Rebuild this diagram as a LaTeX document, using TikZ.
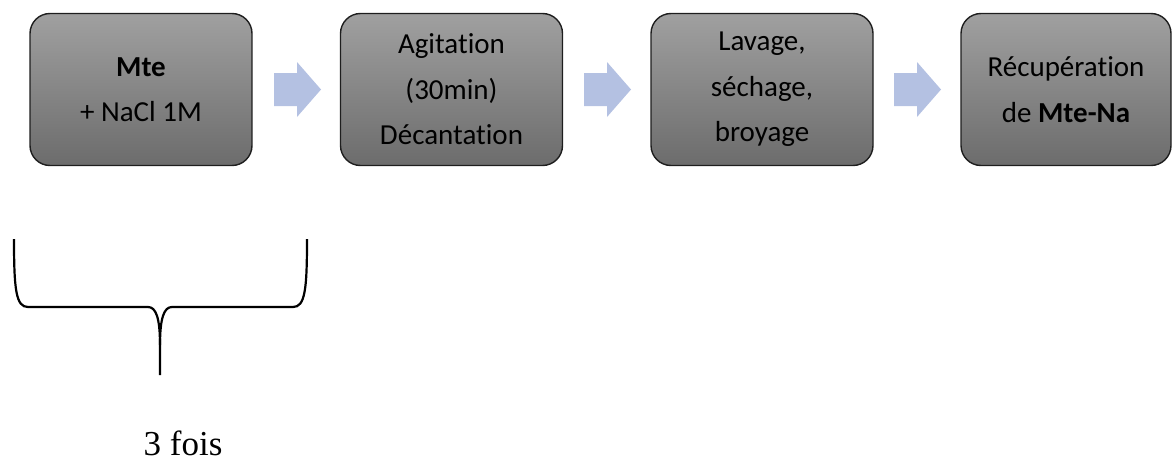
\documentclass[tikz,border=0pt]{standalone}
\usepackage{fontspec}
\setmainfont{Carlito}[Ligatures=NoCommon]
\newfontfamily\timesfont{Liberation Serif}
\definecolor{boxtop}{RGB}{160,160,160}
\definecolor{boxbottom}{RGB}{108,108,108}
\definecolor{boxline}{RGB}{30,30,30}
\definecolor{arrowblue}{RGB}{180,193,226}
\tikzset{
  stepbox/.style={draw=boxline, line width=1.4pt, rounded corners=20pt,
    top color=boxtop, bottom color=boxbottom, minimum height=152pt,
    minimum width=222pt, align=center, inner sep=0pt,
    font=\fontsize{29}{45.5}\selectfont, text=black},
  flowarrow/.style={fill=arrowblue, draw=none},
  bracestroke/.style={draw=black, line width=2.2pt, line join=round},
  bracelabel/.style={font=\timesfont\fontsize{35}{40}\selectfont, inner sep=0pt}
}
\begin{document}
\begin{tikzpicture}[x=1pt,y=-1pt]
\useasboundingbox (0,0) rectangle (1172,463);

% process steps
\node[stepbox] (s1) at (141,89.5) {\textbf{Mte}\\+ NaCl 1M};
\node[stepbox] (s2) at (451.5,89.5) {Agitation\\(30min)\\Décantation};
\node[stepbox] (s3) at (762,89.5) {Lavage,\\séchage,\\broyage};
\node[stepbox, minimum width=210pt] (s4) at (1066,89.5) {Récupération\\de \textbf{Mte-Na}};

% block arrows between the steps
\foreach \x in {274,584,894}{
  \fill[flowarrow] (\x,73) -- (\x+23,73) -- (\x+23,62) -- (\x+47,89.5)
    -- (\x+23,117) -- (\x+23,106) -- (\x,106) -- cycle;
}

% brace under the first step
\coordinate (bl) at (14,239);
\coordinate (br) at (307,239);
\coordinate (tip) at (160,375);
\draw[bracestroke] (bl) .. controls (14,290) and (16,307) .. (28,307)
  -- (148,307) .. controls (156,307) and (160,318) .. (160,345) -- (tip);
\draw[bracestroke] (br) .. controls (307,290) and (305,307) .. (293,307)
  -- (172,307) .. controls (164,307) and (160,318) .. (160,345);

\node[bracelabel, anchor=base] (count) at (183,455) {3 fois};
\end{tikzpicture}
\end{document}
